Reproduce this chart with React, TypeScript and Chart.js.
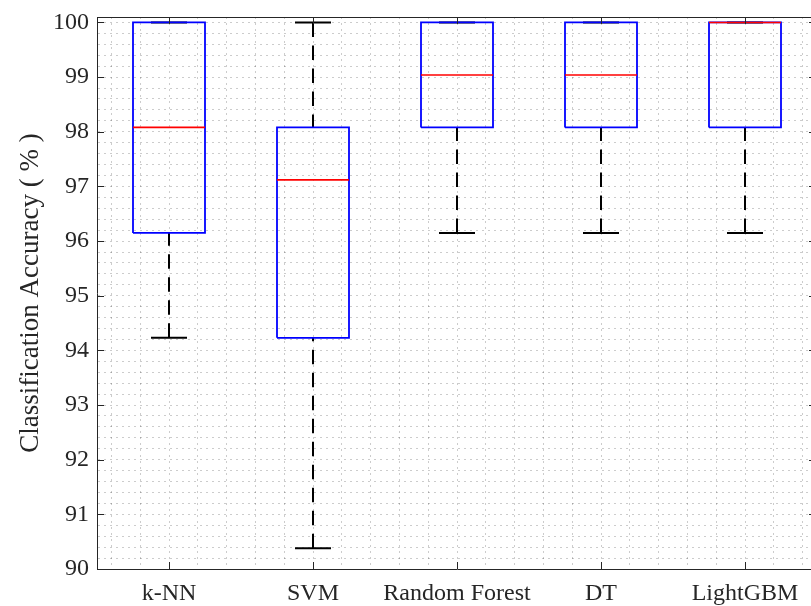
import React, { useEffect, useRef } from "react";
import { Chart, registerables } from "chart.js";

Chart.register(...registerables);

const categories = ["k-NN", "SVM", "Random Forest", "DT", "LightGBM"];
const lowerWhisker = [94.23, 90.38, 96.15, 96.15, 96.15];
const q1 = [96.15, 94.23, 98.08, 98.08, 98.08];
const median = [98.08, 97.12, 99.04, 99.04, 100];
const q3 = [100, 98.08, 100, 100, 100];
const upperWhisker = [100, 100, 100, 100, 100];
const yTickLabels = [90, 91, 92, 93, 94, 95, 96, 97, 98, 99, 100];

const AXIS = "#262626";
const FONT = "'Liberation Serif', 'Times New Roman', serif";
const BOX_HALF = 0.25;
const CAP_HALF = 0.125;
const MINOR_STEPS = 5; // minor grid subdivisions per major tick

function isInt(v: number) {
  return Math.abs(v - Math.round(v)) < 1e-6;
}

function gridValues(majors: number[]) {
  const out: number[] = [];
  for (let i = 0; i < majors.length; i++) {
    out.push(majors[i]);
    if (i < majors.length - 1) {
      const d = (majors[i + 1] - majors[i]) / MINOR_STEPS;
      for (let j = 1; j < MINOR_STEPS; j++) out.push(Math.round((majors[i] + j * d) * 1e6) / 1e6);
    }
  }
  return out;
}

const axisPlugin = {
  id: "matlabAxes",
  afterDraw(chart: any) {
    const { ctx, chartArea, scales } = chart;
    const { left, right, top, bottom } = chartArea;
    ctx.save();
    ctx.strokeStyle = AXIS;
    ctx.lineWidth = 1;
    ctx.beginPath();
    ctx.moveTo(left, top + 0.5);
    ctx.lineTo(right, top + 0.5);
    const tl = 7;
    categories.forEach((_, i) => {
      const x = Math.round(scales.x.getPixelForValue(i + 1)) + 0.5;
      ctx.moveTo(x, bottom);
      ctx.lineTo(x, bottom - tl);
      ctx.moveTo(x, top);
      ctx.lineTo(x, top + tl);
    });
    yTickLabels.forEach((v) => {
      const y = Math.round(scales.y.getPixelForValue(v)) + 0.5;
      ctx.moveTo(left, y);
      ctx.lineTo(left + tl, y);
      ctx.moveTo(right - 1, y);
      ctx.lineTo(right - 1 - tl, y);
    });
    ctx.stroke();
    ctx.restore();
  },
};

function line(points: { x: number; y: number }[], color: string, width: number, order: number, dash: number[] = []) {
  return {
    data: points,
    showLine: true,
    borderColor: color,
    borderWidth: width,
    borderDash: dash,
    pointRadius: 0,
    pointHoverRadius: 0,
    fill: false,
    tension: 0,
    order,
    borderCapStyle: "butt",
    borderJoinStyle: "miter",
  };
}

export default function App() {
  const canvasRef = useRef<HTMLCanvasElement>(null);

  useEffect(() => {
    if (!canvasRef.current) return;
    const datasets: any[] = [];
    categories.forEach((_, k) => {
      const c = k + 1;
      datasets.push(line([{ x: c, y: lowerWhisker[k] }, { x: c, y: q1[k] }], "#000000", 2, 3, [14.5, 8.5]));
      datasets.push(line([{ x: c, y: upperWhisker[k] }, { x: c, y: q3[k] }], "#000000", 2, 3, [14.5, 8.5]));
      datasets.push(line([{ x: c - CAP_HALF, y: lowerWhisker[k] }, { x: c + CAP_HALF, y: lowerWhisker[k] }], "#000000", 2, 3));
      datasets.push(line([{ x: c - CAP_HALF, y: upperWhisker[k] }, { x: c + CAP_HALF, y: upperWhisker[k] }], "#000000", 2, 3));
      datasets.push(
        line(
          [
            { x: c - BOX_HALF, y: q1[k] },
            { x: c + BOX_HALF, y: q1[k] },
            { x: c + BOX_HALF, y: q3[k] },
            { x: c - BOX_HALF, y: q3[k] },
            { x: c - BOX_HALF, y: q1[k] },
          ],
          "#0000ff",
          1.8,
          2
        )
      );
      datasets.push(line([{ x: c - BOX_HALF, y: median[k] }, { x: c + BOX_HALF, y: median[k] }], "#ff0000", 1.6, 1));
    });

    const xMajors = [0, ...categories.map((_, i) => i + 1), categories.length + 1];
    const xGrid = gridValues(xMajors).filter((v) => v > 0.5 && v < categories.length + 0.5);
    const yGrid = gridValues(yTickLabels);

    const chart = new Chart(canvasRef.current, {
      type: "scatter",
      data: { datasets },
      options: {
        animation: false,
        responsive: true,
        maintainAspectRatio: false,
        events: [],
        layout: { padding: { top: 17, right: 15, left: 0, bottom: 0 } },
        plugins: { legend: { display: false }, tooltip: { enabled: false } },
        scales: {
          x: {
            type: "linear",
            min: 0.5,
            max: categories.length + 0.5,
            afterBuildTicks(scale: any) {
              scale.ticks = xGrid.map((v) => ({ value: v }));
            },
            afterFit(scale: any) {
              scale.height = 37;
              scale.paddingLeft = 0;
              scale.paddingRight = 0;
            },
            border: { display: true, color: AXIS, width: 1, dash: [2, 4] },
            grid: { color: "rgba(0,0,0,0.2)", lineWidth: 1, drawTicks: false },
            ticks: {
              autoSkip: false,
              maxRotation: 0,
              padding: 10,
              color: AXIS,
              font: { family: FONT, size: 24 },
              callback: (v: any) => {
                const n = Number(v);
                return isInt(n) && n >= 1 && n <= categories.length ? categories[Math.round(n) - 1] : "";
              },
            },
          },
          y: {
            type: "linear",
            min: 90,
            max: 100.1,
            afterBuildTicks(scale: any) {
              scale.ticks = yGrid.map((v) => ({ value: v }));
            },
            afterFit(scale: any) {
              scale.width = 97;
              scale.paddingTop = 0;
              scale.paddingBottom = 0;
            },
            border: { display: true, color: AXIS, width: 1, dash: [2, 4] },
            grid: { color: "rgba(0,0,0,0.2)", lineWidth: 1, drawTicks: false },
            title: {
              display: true,
              text: "Classification Accuracy ( % )",
              color: AXIS,
              font: { family: FONT, size: 27 },
              padding: { top: 15, bottom: 0 },
            },
            ticks: {
              autoSkip: false,
              padding: 8,
              color: AXIS,
              font: { family: FONT, size: 24 },
              callback: (v: any) => {
                const n = Number(v);
                return isInt(n) && yTickLabels.includes(Math.round(n)) ? String(Math.round(n)) : "";
              },
            },
          },
        },
      },
      plugins: [axisPlugin],
    } as any);
    return () => chart.destroy();
  }, []);

  return (
    <div
      style={{
        position: "fixed",
        left: 0,
        top: 0,
        width: 811,
        height: 606,
        overflow: "hidden",
        background: "#ffffff",
      }}
    >
      <div style={{ position: "absolute", left: 0, top: 0, width: 832, height: 606 }}>
        <canvas ref={canvasRef} />
      </div>
    </div>
  );
}
